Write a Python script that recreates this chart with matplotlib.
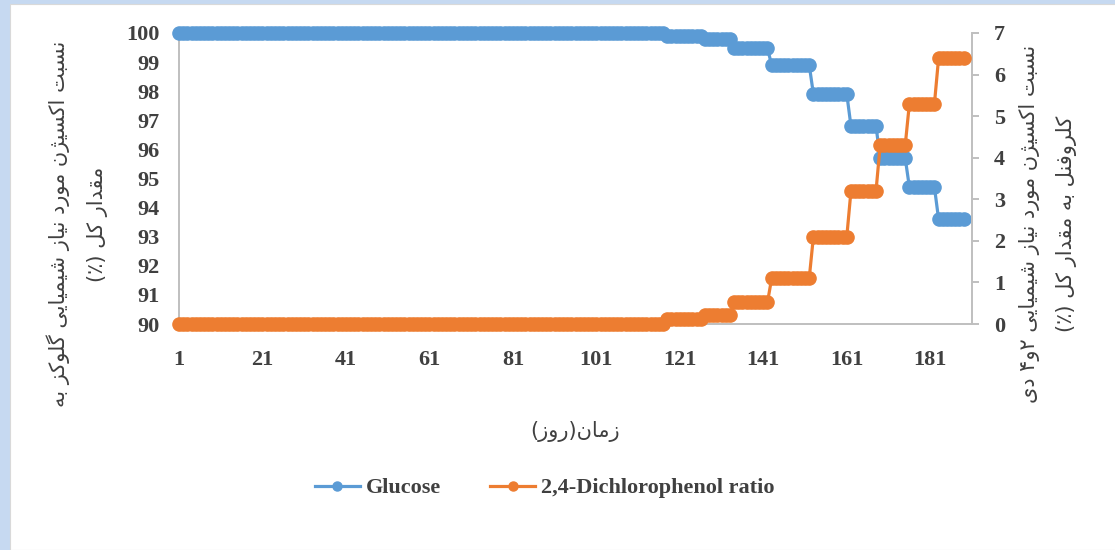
import numpy as np
import matplotlib
matplotlib.use("Agg")
import matplotlib.pyplot as plt
from matplotlib.patches import Rectangle
from matplotlib.lines import Line2D

# COD ratio levels and how many days each level lasted
glucose_levels = [100, 99.88, 99.78, 99.47, 98.9, 97.9, 96.8, 95.7, 94.7, 93.6]
dcp_levels = [0, 0.12, 0.22, 0.52, 1.1, 2.1, 3.2, 4.3, 5.3, 6.4]
level_days = [117, 9, 7, 9, 10, 9, 7, 7, 7, 7]

x_ticks = [1, 21, 41, 61, 81, 101, 121, 141, 161, 181]
left_ticks = [90, 91, 92, 93, 94, 95, 96, 97, 98, 99, 100]
right_ticks = [0, 1, 2, 3, 4, 5, 6, 7]

series_names = ["Glucose", "2,4-Dichlorophenol ratio"]
x_title = "زمان(روز)"
left_title = ["نسبت اکسیژن مورد نیاز شیمیایی گلوکز به", "مقدار کل (٪)"]
right_title = ["نسبت اکسیژن مورد نیاز شیمیایی ۲و۴ دی", "کلروفنل به مقدار کل (٪)"]

days = np.arange(1, sum(level_days) + 1)
glucose = np.repeat(glucose_levels, level_days)
dcp = np.repeat(dcp_levels, level_days)

# matplotlib has no Arabic shaping, so pick presentation forms by hand
# (isolated, final, initial, medial); None = letter does not join forward
FORMS = {
    "ا": ("\uFE8D", "\uFE8E", None, None),
    "ب": ("\uFE8F", "\uFE90", "\uFE91", "\uFE92"),
    "ت": ("\uFE95", "\uFE96", "\uFE97", "\uFE98"),
    "د": ("\uFEA9", "\uFEAA", None, None),
    "ر": ("\uFEAD", "\uFEAE", None, None),
    "ز": ("\uFEAF", "\uFEB0", None, None),
    "ژ": ("\uFB8A", "\uFB8B", None, None),
    "س": ("\uFEB1", "\uFEB2", "\uFEB3", "\uFEB4"),
    "ش": ("\uFEB5", "\uFEB6", "\uFEB7", "\uFEB8"),
    "ف": ("\uFED1", "\uFED2", "\uFED3", "\uFED4"),
    "ق": ("\uFED5", "\uFED6", "\uFED7", "\uFED8"),
    "ک": ("\uFB8E", "\uFB8F", "\uFB90", "\uFB91"),
    "گ": ("\uFB92", "\uFB93", "\uFB94", "\uFB95"),
    "ل": ("\uFEDD", "\uFEDE", "\uFEDF", "\uFEE0"),
    "م": ("\uFEE1", "\uFEE2", "\uFEE3", "\uFEE4"),
    "ن": ("\uFEE5", "\uFEE6", "\uFEE7", "\uFEE8"),
    "ه": ("\uFEE9", "\uFEEA", "\uFEEB", "\uFEEC"),
    "و": ("\uFEED", "\uFEEE", None, None),
    "ی": ("\uFBFC", "\uFBFD", "\uFBFE", "\uFBFF"),
}
MIRROR = {"(": ")", ")": "("}


def fa(text):
    out = []
    for i, ch in enumerate(text):
        if ch not in FORMS:
            out.append(ch)
            continue
        prev = text[i - 1] if i > 0 else None
        nxt = text[i + 1] if i + 1 < len(text) else None
        join_prev = prev in FORMS and FORMS[prev][2] is not None
        join_next = nxt in FORMS and FORMS[ch][2] is not None
        if join_prev and join_next:
            out.append(FORMS[ch][3])
        elif join_prev:
            out.append(FORMS[ch][1])
        elif join_next:
            out.append(FORMS[ch][2])
        else:
            out.append(FORMS[ch][0])
    return "".join(MIRROR.get(c, c) for c in reversed(out))


BLUE = "#5B9BD5"
ORANGE = "#ED7D31"
GREY = "#BFBFBF"
TEXT = "#404040"
num_font = dict(family="Liberation Serif", weight="bold", size=16, color=TEXT)

fig = plt.figure(figsize=(11.15, 5.5), dpi=100)
fig.patch.set_facecolor("#C6D9F1")
fig.add_artist(Rectangle((10 / 1115, 0), 1, 1 - 4 / 550, transform=fig.transFigure,
                         facecolor="white", edgecolor="#D9D9D9", lw=0.8, zorder=0))

ax = fig.add_axes([179 / 1115, 1 - 324 / 550, (972 - 179) / 1115, (324 - 33) / 550])
ax.set_facecolor("none")
ax2 = ax.twinx()

ax.plot(days, glucose, color=BLUE, lw=2.3, marker="o", ms=9.5, mec=BLUE,
        clip_on=False, zorder=3)
ax2.plot(days, dcp, color=ORANGE, lw=2.3, marker="o", ms=9.5, mec=ORANGE,
         clip_on=False, zorder=3)

ax.set_xlim(1, 191)
ax.set_ylim(90, 100)
ax2.set_ylim(0, 7)
ax.set_xticks(x_ticks)
ax.set_yticks(left_ticks)
ax2.set_yticks(right_ticks)
ax.set_xticklabels([str(t) for t in x_ticks], **num_font)
ax.set_yticklabels([str(t) for t in left_ticks], **num_font)
ax2.set_yticklabels([str(t) for t in right_ticks], **num_font)

for a in (ax, ax2):
    a.spines["top"].set_visible(False)
    for s in ("left", "right", "bottom"):
        a.spines[s].set_color(GREY)
        a.spines[s].set_linewidth(1.4)
ax.spines["right"].set_visible(False)
ax2.spines["left"].set_visible(False)
ax2.spines["bottom"].set_visible(False)

ax.tick_params(axis="x", length=0, pad=19)
ax.tick_params(axis="y", length=0, pad=14)
ax2.tick_params(axis="y", direction="out", length=5, width=1.4, color=GREY, pad=11)

fa_font = dict(family="DejaVu Sans", size=15, color=TEXT)
fig.text(575 / 1115, 1 - 432 / 550, fa(x_title), ha="center", va="center", **fa_font)
fig.text(77 / 1115, 1 - 224 / 550, "\n".join(fa(s) for s in left_title), rotation=90,
         ha="center", va="center", multialignment="center", linespacing=2.05, **fa_font)
fig.text(1048 / 1115, 1 - 224 / 550, "\n".join(fa(s) for s in right_title), rotation=90,
         ha="center", va="center", multialignment="center", linespacing=2.05, **fa_font)

handles = [
    Line2D([], [], color=BLUE, lw=2.3, marker="o", ms=6.5, mec=BLUE),
    Line2D([], [], color=ORANGE, lw=2.3, marker="o", ms=6.5, mec=ORANGE),
]
leg = fig.legend(handles, series_names, loc="center", bbox_to_anchor=(545 / 1115, 1 - 488 / 550),
                 ncol=2, frameon=False, handlelength=2.0, handletextpad=0.3, columnspacing=2.2,
                 prop=dict(family="Liberation Serif", weight="bold", size=16))
for t in leg.get_texts():
    t.set_color(TEXT)

fig.savefig("out.png", dpi=100)
